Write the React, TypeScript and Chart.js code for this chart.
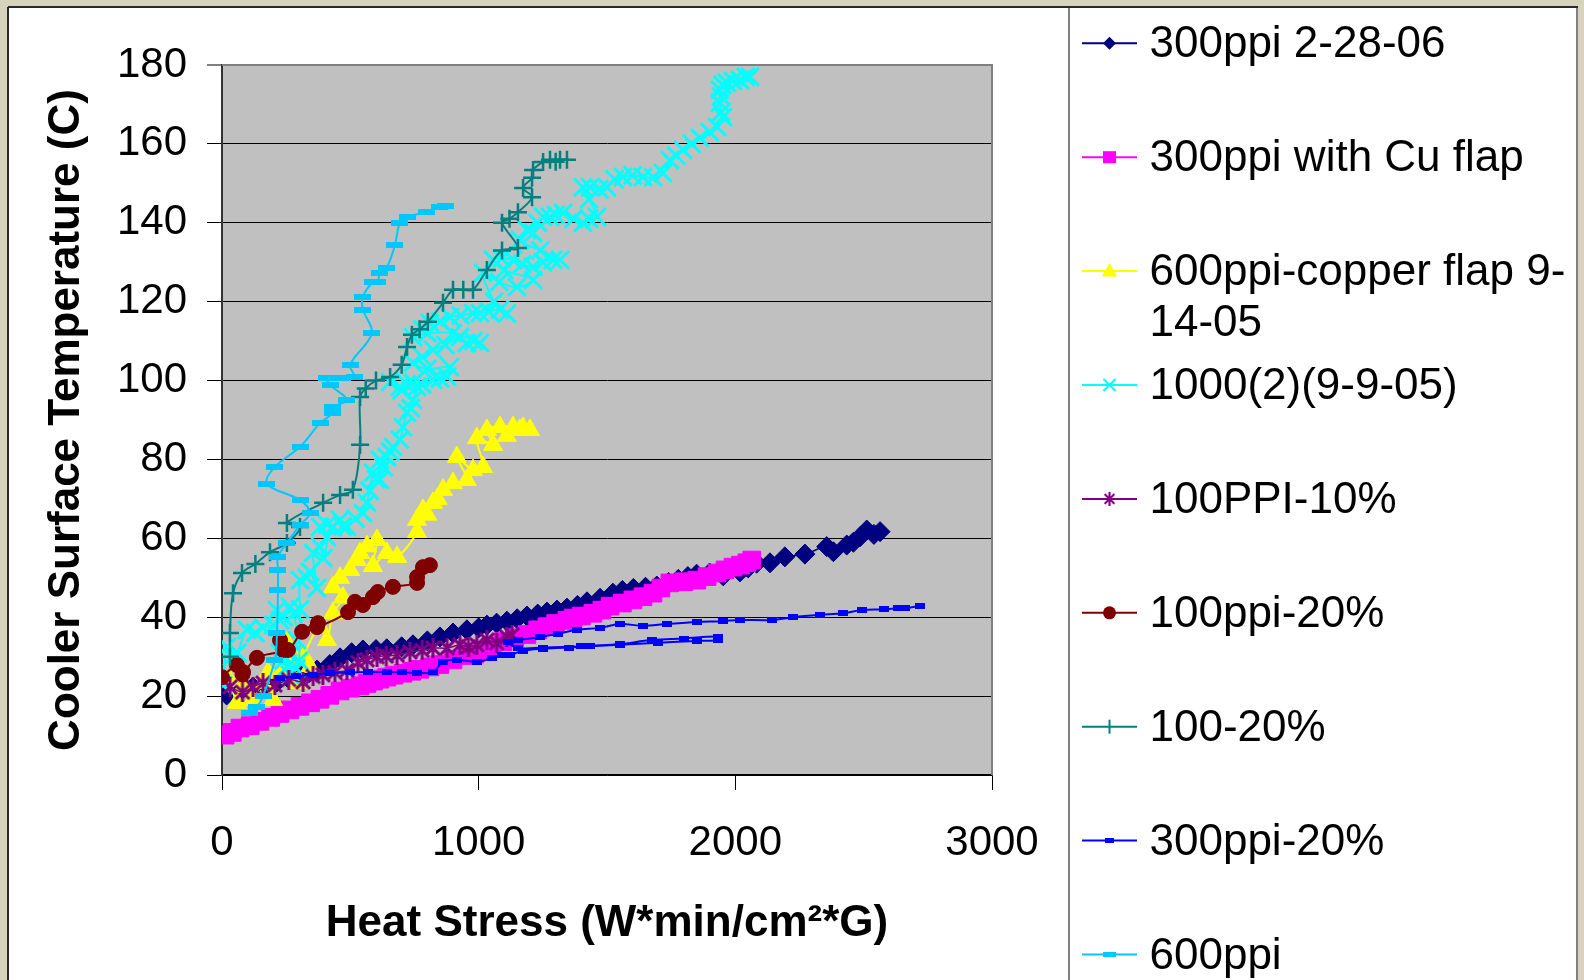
import React, { useEffect, useRef } from "react";
import { Chart, registerables } from "chart.js";

Chart.register(...registerables);

const W = 1584;
const H = 980;

// ---------- data ----------
const xTickValues = [0, 1000, 2000, 3000];
const yTickValues = [0, 20, 40, 60, 80, 100, 120, 140, 160, 180];

const seriesNames = [
  "300ppi 2-28-06",
  "300ppi with Cu flap",
  "600ppi-copper flap 9-14-05",
  "1000(2)(9-9-05)",
  "100PPI-10%",
  "100ppi-20%",
  "100-20%",
  "300ppi-20%",
  "600ppi",
];

const legendText = [
  ["300ppi 2-28-06"],
  ["300ppi with Cu flap"],
  ["600ppi-copper flap 9-", "14-05"],
  ["1000(2)(9-9-05)"],
  ["100PPI-10%"],
  ["100ppi-20%"],
  ["100-20%"],
  ["300ppi-20%"],
  ["600ppi"],
];

const navyX = [18, 70, 121, 170, 214, 260, 304, 340, 370, 420, 460, 505, 549, 600, 642, 700, 744, 800, 849, 900, 954, 1000, 1032, 1070, 1110, 1150, 1188, 1230, 1266, 1305, 1344, 1385, 1422, 1473, 1523, 1560, 1603, 1650, 1694, 1740, 1778, 1815, 1849, 1900, 1953, 2018, 2050, 2083, 2135, 2193, 2271, 2356, 2382, 2434, 2460, 2486, 2512, 2540, 2564];
const navyY = [20.3, 21.2, 22.3, 23, 23.6, 24.4, 25.4, 26, 26.6, 28, 29.7, 31, 31.7, 31.8, 32, 32.5, 33, 34, 35, 36, 36.8, 37.3, 38, 38.5, 39, 39.6, 40.3, 40.8, 41.3, 41.8, 42.3, 43, 43.9, 44.8, 46.1, 46.8, 47.3, 47.6, 47.9, 48.8, 49.6, 50.3, 50.9, 51.2, 50.5, 51.5, 52.5, 53.7, 53.8, 55.3, 56, 57.9, 56.6, 58.3, 59, 60.4, 62.1, 61, 61.7];

const magentaX = [12, 40, 70, 110, 148, 190, 226, 265, 304, 345, 382, 420, 460, 500, 538, 565, 590, 615, 642, 670, 705, 740, 771, 810, 849, 900, 954, 985, 1017, 1055, 1095, 1140, 1188, 1230, 1266, 1300, 1344, 1368, 1400, 1445, 1480, 1512, 1560, 1601, 1640, 1679, 1710, 1745, 1800, 1850, 1890, 1929, 1960, 1991, 2020, 2045, 2064];
const magentaY = [10.1, 10.8, 11.9, 12.5, 13.6, 14.6, 15.6, 16.5, 17.4, 18.3, 19.2, 20.2, 21.3, 22, 22.6, 23.2, 23.8, 24.3, 24.8, 25.3, 25.8, 26.3, 26.8, 27.4, 28, 29.2, 30.3, 30.7, 31.3, 32.6, 33.8, 34.8, 35.6, 36.8, 37.6, 38.4, 39.2, 39.8, 40.3, 41, 41.8, 42.8, 43.6, 44.4, 45.2, 46.1, 47.4, 48.7, 49, 49.4, 50.3, 51.2, 52, 52.7, 53.2, 53.8, 54.5];

const yellowX = [58, 30, 82, 117, 160, 199, 179, 238, 292, 253, 343, 320, 382, 409, 432, 471, 432, 460, 499, 526, 538, 565, 604, 588, 642, 682, 760, 760, 783, 800, 822, 840, 861, 900, 954, 915, 978, 1017, 993, 1056, 1032, 1083, 1110, 1134, 1160, 1173, 1200];
const yellowY = [18.3, 24, 22.3, 19, 23.3, 19, 25.9, 26.6, 23.3, 33.5, 27.4, 30, 37.5, 34.2, 41, 45, 47.6, 50, 52, 54.5, 56.3, 58, 59.6, 53, 56.3, 55.3, 61.6, 64.7, 67.2, 66, 69, 70, 72.3, 74, 74.8, 80.6, 77.3, 78.1, 85.4, 83.7, 87.5, 88.2, 86, 88.2, 87.5, 88, 87.5];

const cyanX = [4, 19, 40, 60, 97, 130, 160, 200, 226, 214, 240, 265, 280, 292, 265, 226, 240, 253, 265, 290, 300, 304, 304, 330, 343, 370, 355, 382, 395, 409, 382, 410, 432, 460, 470, 487, 520, 549, 565, 575, 588, 600, 615, 615, 630, 642, 655, 666, 693, 705, 721, 735, 744, 760, 700, 655, 693, 720, 744, 780, 822, 850, 877, 888, 800, 744, 780, 822, 870, 927, 954, 980, 1005, 900, 800, 744, 780, 810, 850, 888, 930, 978, 1005, 1040, 1083, 1110, 1060, 1017, 1080, 1149, 1212, 1100, 1056, 1090, 1134, 1170, 1212, 1250, 1290, 1317, 1240, 1161, 1188, 1212, 1230, 1251, 1278, 1300, 1329, 1370, 1406, 1430, 1461, 1430, 1406, 1434, 1470, 1500, 1530, 1562, 1600, 1640, 1680, 1718, 1745, 1770, 1796, 1830, 1862, 1900, 1929, 1952, 1945, 1940, 1945, 1940, 1950, 1967, 1990, 2018, 2040, 2057];
const cyanY = [22.8, 32.5, 30, 31, 36.8, 36, 37.3, 38, 39.3, 41.8, 40, 42.6, 41, 34.2, 30.4, 30.9, 29, 27.4, 25.4, 27, 29, 42, 49.4, 50, 51.5, 47.4, 56.3, 57.8, 55, 60.3, 62.9, 63.5, 62.9, 64.7, 63, 62.9, 65, 66.4, 69, 72, 76.6, 75, 74.8, 79.9, 78, 80.6, 82, 83.2, 85, 88.2, 91.8, 93, 95.1, 98.4, 97.5, 99.6, 98.4, 99, 99.4, 99, 100.2, 100.5, 101, 103.4, 103, 104.5, 106, 107.8, 109, 111, 109.5, 110, 109.5, 112, 112, 111, 113, 114.6, 115, 116.1, 116.5, 117.1, 117.1, 117.5, 118, 117, 120, 127.3, 125, 123.7, 125.5, 128, 130.6, 131, 130.6, 129.5, 128.8, 130, 130.6, 130.6, 133, 135.6, 138.2, 137.4, 140, 141.5, 141.5, 142, 142.5, 141, 140, 141, 141.5, 146, 149, 149, 148.5, 149, 151, 151.6, 152, 151.6, 151.5, 152.6, 155.9, 157, 158.5, 160, 161.5, 163, 164.3, 166.8, 168, 170.4, 172, 173.7, 175, 175.5, 176, 176.2, 177, 177];

const purpleX = [31, 80, 121, 160, 206, 260, 316, 355, 393, 440, 487, 530, 565, 604, 640, 682, 732, 780, 822, 877, 927, 960, 993, 1032, 1070, 1110, 1130];
const purpleY = [22.3, 21, 22.3, 23.3, 22.8, 24.2, 23.6, 25, 25.4, 26, 26.6, 28.5, 29.2, 30, 30.2, 30.4, 31.2, 31.6, 32.2, 32.2, 33, 32.5, 33, 34.2, 33.5, 35, 35.5];

const maroonX = [0, 58, 82, 80, 136, 238, 226, 257, 312, 374, 370, 491, 518, 549, 588, 607, 666, 760, 760, 783, 810];
const maroonY = [24.8, 27.9, 26.1, 25.5, 29.7, 31.7, 34.2, 31.7, 36.3, 38.5, 37.5, 41.3, 43.9, 43.1, 45.1, 46.4, 47.7, 48.7, 50.2, 52.7, 53.2];

const tealX = [31, 31, 43, 78, 130, 187, 253, 304, 253, 394, 460, 510, 538, 538, 560, 600, 655, 700, 721, 740, 770, 802, 861, 900, 940, 978, 1032, 1091, 1153, 1091, 1120, 1153, 1208, 1173, 1208, 1212, 1251, 1278, 1300, 1317, 1344];
const tealY = [30, 36, 46.1, 51.2, 53.5, 56.5, 58.8, 62.9, 63.9, 69, 71, 72.3, 83.7, 95.8, 98, 100, 100.9, 104, 108.5, 111.6, 113, 114.9, 119.7, 123, 123, 123, 128, 133, 133.6, 140, 141, 142.7, 146.5, 148.8, 151.4, 153.4, 155.4, 156, 155.5, 156, 156];

const blueX = [226, 290, 355, 420, 500, 570, 642, 700, 760, 822, 861, 915, 993, 1050, 1091, 1122, 1173, 1250, 1350, 1434, 1550, 1674, 1800, 1934, 1934, 1850, 1700, 1550, 1400, 1250, 1153, 1114, 1153, 1238, 1310, 1383, 1473, 1551, 1640, 1734, 1850, 1950, 2018, 2142, 2226, 2330, 2420, 2492, 2580, 2635, 2661, 2719];
const blueY = [24.6, 25, 25.4, 25.8, 26, 26.1, 26.1, 26, 25.9, 26.1, 28.7, 29.2, 28.7, 29.6, 30.4, 30.4, 31.5, 32, 32.3, 32.7, 33.2, 34.2, 34.6, 35.1, 34.2, 34, 33.5, 33, 32.6, 32.3, 32.2, 33.7, 34.2, 35, 35.8, 36.8, 37.3, 38.3, 37.8, 38.3, 38.8, 39, 39.3, 39.3, 40, 40.6, 41, 41.8, 42, 42.3, 42.3, 42.9];

const skyX = [109, 136, 160, 206, 214, 218, 218, 218, 253, 304, 343, 304, 175, 206, 304, 382, 432, 432, 487, 421, 409, 448, 471, 516, 499, 584, 549, 549, 588, 607, 615, 642, 674, 693, 721, 798, 849, 869];
const skyY = [15.7, 17.2, 20, 29.2, 36, 47, 52, 55.3, 58.8, 63.4, 66.4, 69.7, 73.8, 78.1, 83.2, 89.2, 91.8, 93.3, 95.1, 98.9, 100.7, 100.7, 100.7, 101, 104, 112, 118, 121.2, 125, 125, 127.3, 128.6, 134.4, 140, 141.5, 142.7, 144, 144.3];

const seriesX = [navyX, magentaX, yellowX, cyanX, purpleX, maroonX, tealX, blueX, skyX];
const seriesY = [navyY, magentaY, yellowY, cyanY, purpleY, maroonY, tealY, blueY, skyY];

// ---------- styles ----------
const seriesColors = ["#000080", "#FF00FF", "#FFFF00", "#00FFFF", "#800080", "#800000", "#008080", "#0000FF", "#00C8FF"];
const seriesMarkers = ["rectRot", "rect", "triangle", "crossRot", "starImg", "circle", "cross", "shortDash", "longDash"];
const seriesRadius = [10, 12.5, 11, 12.5, 4, 7.5, 9, 4, 4];
const seriesLineWidth = [1.5, 1.5, 2, 2, 1.5, 2, 2, 2, 2];
const seriesPointBorder = [1, 1, 1, 3, 1, 1, 2.5, 1, 1];

const FONT = '"Liberation Sans", Arial, sans-serif';

function makeImg(w: number, h: number, draw: (c: CanvasRenderingContext2D) => void) {
  const c = document.createElement("canvas");
  c.width = w;
  c.height = h;
  const g = c.getContext("2d") as CanvasRenderingContext2D;
  draw(g);
  return c;
}

export default function App() {
  const ref = useRef<HTMLCanvasElement | null>(null);

  useEffect(() => {
    const canvas = ref.current;
    if (!canvas) return;

    const images: Record<string, HTMLCanvasElement> = {
      shortDash: makeImg(10, 6, (g) => {
        g.fillStyle = "#0000FF";
        g.fillRect(0, 0, 10, 6);
      }),
      longDash: makeImg(17, 6, (g) => {
        g.fillStyle = "#00C8FF";
        g.fillRect(0, 0, 17, 6);
      }),
      starImg: makeImg(20, 20, (g) => {
        g.strokeStyle = "#800080";
        g.lineWidth = 3;
        g.beginPath();
        g.moveTo(3, 3);
        g.lineTo(17, 17);
        g.moveTo(17, 3);
        g.lineTo(3, 17);
        g.moveTo(10, 0);
        g.lineTo(10, 20);
        g.stroke();
      }),
    };

    const datasets = seriesNames.map((name, i) => {
      const m = seriesMarkers[i];
      const ps: any = images[m] ? images[m] : m;
      return {
        label: name,
        data: seriesX[i].map((x, k) => ({ x, y: seriesY[i][k] })),
        showLine: true,
        borderColor: seriesColors[i],
        backgroundColor: seriesColors[i],
        borderWidth: seriesLineWidth[i],
        pointStyle: ps,
        pointRadius: seriesRadius[i],
        pointBackgroundColor: seriesColors[i],
        pointBorderColor: seriesColors[i],
        pointBorderWidth: seriesPointBorder[i],
        tension: 0.35,
        order: 10 - i,
      };
    });

    const drawLegendMarker = (ctx: CanvasRenderingContext2D, kind: string, x: number, y: number, color: string) => {
      ctx.save();
      ctx.fillStyle = color;
      ctx.strokeStyle = color;
      ctx.lineWidth = 2;
      ctx.beginPath();
      if (images[kind]) {
        const im = images[kind];
        const s = kind === "starImg" ? 0.7 : kind === "longDash" ? 0.8 : 0.9;
        ctx.drawImage(im, x - (im.width * s) / 2, y - (im.height * s) / 2, im.width * s, im.height * s);
      } else if (kind === "rectRot") {
        ctx.moveTo(x, y - 6.5);
        ctx.lineTo(x + 6.5, y);
        ctx.lineTo(x, y + 6.5);
        ctx.lineTo(x - 6.5, y);
        ctx.closePath();
        ctx.fill();
      } else if (kind === "rect") {
        ctx.fillRect(x - 6.5, y - 6, 13, 12);
      } else if (kind === "triangle") {
        ctx.moveTo(x, y - 8);
        ctx.lineTo(x + 7.5, y + 5.5);
        ctx.lineTo(x - 7.5, y + 5.5);
        ctx.closePath();
        ctx.fill();
      } else if (kind === "crossRot") {
        ctx.moveTo(x - 6, y - 6);
        ctx.lineTo(x + 6, y + 6);
        ctx.moveTo(x + 6, y - 6);
        ctx.lineTo(x - 6, y + 6);
        ctx.stroke();
      } else if (kind === "circle") {
        ctx.arc(x, y, 6.5, 0, Math.PI * 2);
        ctx.fill();
      } else if (kind === "cross") {
        ctx.moveTo(x, y - 7);
        ctx.lineTo(x, y + 7);
        ctx.stroke();
      }
      ctx.restore();
    };

    const framePlugin = {
      id: "frame",
      beforeDraw(chart: any) {
        const { ctx, chartArea: a } = chart;
        ctx.save();
        ctx.fillStyle = "#D6D3BC";
        ctx.fillRect(0, 0, W, H);
        ctx.fillStyle = "#FFFFFF";
        ctx.fillRect(8, 7, 1570, H - 7);
        ctx.strokeStyle = "#2A2A2A";
        ctx.lineWidth = 2;
        ctx.beginPath();
        ctx.moveTo(8, 7);
        ctx.lineTo(1578, 7);
        ctx.moveTo(8, 7);
        ctx.lineTo(8, H);
        ctx.stroke();
        ctx.strokeStyle = "#808080";
        ctx.lineWidth = 2;
        ctx.beginPath();
        ctx.moveTo(1069, 8);
        ctx.lineTo(1069, H);
        ctx.moveTo(1577, 8);
        ctx.lineTo(1577, H);
        ctx.stroke();
        ctx.fillStyle = "#C0C0C0";
        ctx.fillRect(a.left, a.top, a.right - a.left, a.bottom - a.top);
        ctx.restore();
      },
      beforeDatasetsDraw(chart: any) {
        const { ctx, chartArea: a } = chart;
        ctx.save();
        ctx.strokeStyle = "#808080";
        ctx.lineWidth = 2;
        ctx.beginPath();
        ctx.moveTo(a.left, a.top);
        ctx.lineTo(a.right, a.top);
        ctx.lineTo(a.right, a.bottom);
        ctx.stroke();
        ctx.restore();
      },
      afterDraw(chart: any) {
        const { ctx } = chart;
        ctx.save();
        ctx.font = `44px ${FONT}`;
        ctx.textBaseline = "alphabetic";
        ctx.textAlign = "left";
        legendText.forEach((lines, i) => {
          const y = 43.3 + i * 113.9;
          ctx.strokeStyle = seriesColors[i];
          ctx.lineWidth = 2;
          ctx.beginPath();
          ctx.moveTo(1082, y);
          ctx.lineTo(1137, y);
          ctx.stroke();
          drawLegendMarker(ctx, seriesMarkers[i], 1109.5, y, seriesColors[i]);
          ctx.fillStyle = "#000000";
          lines.forEach((t, k) => {
            ctx.fillText(t, 1149.5, y + 14 + k * 51);
          });
        });
        ctx.restore();
      },
    };

    const chart = new Chart(canvas, {
      type: "scatter",
      data: { datasets: datasets as any },
      options: {
        responsive: false,
        animation: false,
        devicePixelRatio: 1,
        events: [],
        layout: { padding: { left: 8, top: 65, right: 592, bottom: 0 } },
        plugins: {
          legend: { display: false },
          tooltip: { enabled: false },
        },
        scales: {
          x: {
            type: "linear",
            position: "bottom",
            min: 0,
            max: 3000,
            afterBuildTicks: (s: any) => {
              s.ticks = xTickValues.map((v) => ({ value: v }));
            },
            afterFit: (s: any) => {
              s.height = 205;
            },
            grid: {
              drawOnChartArea: false,
              drawTicks: true,
              tickLength: 15,
              tickColor: "#000000",
              tickWidth: 1,
            },
            border: { display: true, color: "#000000", width: 1.5 },
            ticks: {
              font: { family: FONT, size: 42 },
              color: "#000000",
              padding: 28,
              maxRotation: 0,
              autoSkip: false,
              callback: (v: any) => String(v),
            },
            title: {
              display: true,
              text: "Heat Stress (W*min/cm²*G)",
              font: { family: FONT, size: 44, weight: "bold" },
              color: "#000000",
              padding: { top: 0, bottom: 30 },
            },
          },
          y: {
            type: "linear",
            position: "left",
            min: 0,
            max: 180,
            afterBuildTicks: (s: any) => {
              s.ticks = yTickValues.map((v) => ({ value: v }));
            },
            afterFit: (s: any) => {
              s.width = 214;
            },
            grid: {
              drawOnChartArea: true,
              drawTicks: true,
              tickLength: 15,
              color: (c: any) => (c.tick && c.tick.value === 180 ? "#808080" : "#000000"),
              lineWidth: (c: any) => (c.tick && c.tick.value === 180 ? 2 : 1),
              tickColor: "#000000",
              tickWidth: 1,
            },
            border: { display: true, color: "#333333", width: 2 },
            ticks: {
              font: { family: FONT, size: 42 },
              color: "#000000",
              padding: 20,
              autoSkip: false,
              callback: (v: any) => String(v),
            },
            title: {
              display: true,
              text: "Cooler Surface Temperature (C)",
              font: { family: FONT, size: 44, weight: "bold" },
              color: "#000000",
              padding: { top: 32, bottom: 0 },
            },
          },
        },
      } as any,
      plugins: [framePlugin],
    });

    return () => chart.destroy();
  }, []);

  return (
    <div style={{ position: "absolute", left: 0, top: 0, width: W, height: H, overflow: "hidden" }}>
      <canvas ref={ref} width={W} height={H} style={{ display: "block", width: W, height: H }} />
    </div>
  );
}
